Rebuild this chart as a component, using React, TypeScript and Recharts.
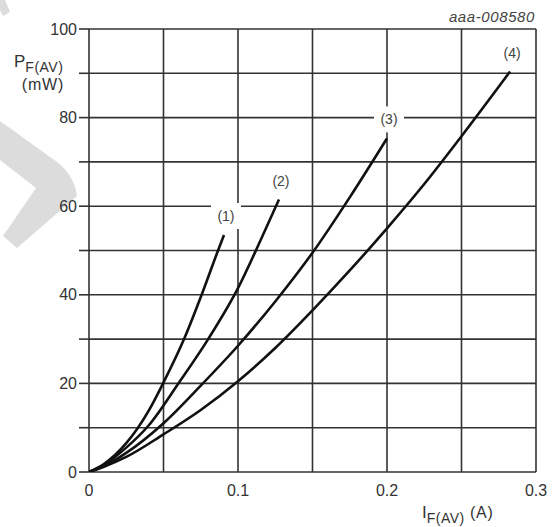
import React from 'react';
import { LineChart, Line, XAxis, YAxis, CartesianGrid, LabelList } from 'recharts';

const xTicks = [0, 0.05, 0.1, 0.15, 0.2, 0.25, 0.3];
const xTickLabels = ['0', '', '0.1', '', '0.2', '', '0.3'];
const yTicks = [0, 10, 20, 30, 40, 50, 60, 70, 80, 90, 100];
const yTickLabels = ['0', '', '20', '', '40', '', '60', '', '80', '', '100'];

const curveNames = ['(1)', '(2)', '(3)', '(4)'];

const curve1I = [0, 0.01, 0.025, 0.04, 0.0497, 0.0638, 0.0756, 0.0866, 0.0906];
const curve1P = [0, 1.8, 6.5, 13.8, 20, 30, 40, 50, 53.5];

const curve2I = [0, 0.01, 0.025, 0.04, 0.06, 0.08, 0.1, 0.115, 0.1275];
const curve2P = [0, 1.6, 5.5, 10.5, 20, 30, 41.5, 52.2, 61.5];

const curve3I = [0, 0.01, 0.025, 0.05, 0.075, 0.1, 0.125, 0.15, 0.175, 0.2];
const curve3P = [0, 1.3, 4.3, 11, 19.5, 28.5, 38.5, 49.5, 62, 75.3];

const curve4I = [0, 0.01, 0.025, 0.05, 0.075, 0.1, 0.125, 0.15, 0.175, 0.2, 0.225, 0.25, 0.2826];
const curve4P = [0, 1.2, 3.4, 8.5, 14, 20.5, 28, 36.5, 45.5, 55, 65, 75.8, 90.4];

const curvesI = [curve1I, curve2I, curve3I, curve4I];
const curvesP = [curve1P, curve2P, curve3P, curve4P];

const FONT = '"Liberation Sans", Arial, sans-serif';

const findLabel = (ticks: number[], labels: string[], v: number) => {
  const i = ticks.findIndex((t) => Math.abs(t - v) < 1e-9);
  return i >= 0 ? labels[i] : '';
};

const makeEndLabel = (name: string, lastIndex: number) => (props: any) => {
  const { index } = props;
  if (index !== lastIndex) return null;
  const x = props.x ?? props.viewBox?.x;
  const y = props.y ?? props.viewBox?.y;
  const cx = x + 2;
  const cy = y - 19;
  return (
    <g>
      <rect x={cx - 15} y={cy - 13} width={30} height={26} fill="#ffffff" />
      <text x={cx} y={cy} textAnchor="middle" dominantBaseline="central" fontSize={14} fontFamily={FONT} fill="#444">
        {name}
      </text>
    </g>
  );
};

export default function App() {
  const series = curvesI.map((I, k) => I.map((v, i) => ({ i: v, p: curvesP[k][i] })));
  return (
    <div style={{ position: 'absolute', left: 0, top: 0, width: 553, height: 527, background: '#ffffff', overflow: 'hidden' }}>
      <svg width={553} height={527} style={{ position: 'absolute', left: 0, top: 0 }}>
        <path d="M0,121 L50,157 Q74,172 77,196 L17,248 L3,236 L36,188 L0,160 Z" fill="#dcdcdc" />
        <path d="M0,0 L5,0 L10,12 L3,16 L0,10 Z" fill="#dcdcdc" />
      </svg>
      <div style={{ position: 'absolute', left: 0, top: 0 }}>
        <LineChart width={553} height={527} margin={{ top: 29, right: 17, left: 0, bottom: 0 }}>
          <CartesianGrid stroke="#333" strokeWidth={1.6} />
          <XAxis
            type="number"
            dataKey="i"
            domain={[0, 0.3]}
            ticks={xTicks}
            interval={0}
            height={55}
            tickSize={0}
            tickMargin={13}
            axisLine={false}
            tickLine={false}
            tickFormatter={(v: number) => findLabel(xTicks, xTickLabels, v)}
            tick={{ fill: '#333', fontSize: 16, fontFamily: FONT }}
            allowDataOverflow
          />
          <YAxis
            type="number"
            dataKey="p"
            domain={[0, 100]}
            ticks={yTicks}
            interval={0}
            width={89}
            tickSize={10}
            tickMargin={2}
            axisLine={false}
            tickLine={{ stroke: '#333', strokeWidth: 1.6 }}
            tickFormatter={(v: number) => findLabel(yTicks, yTickLabels, v)}
            tick={{ fill: '#333', fontSize: 16, fontFamily: FONT }}
            allowDataOverflow
          />
          {series.map((d, k) => (
            <Line
              key={k}
              data={d}
              dataKey="p"
              type="monotone"
              stroke="#111"
              strokeWidth={2.6}
              dot={false}
              activeDot={false}
              isAnimationActive={false}
            >
              <LabelList dataKey="p" content={makeEndLabel(curveNames[k], d.length - 1)} />
            </Line>
          ))}
        </LineChart>
      </div>
      <svg width={553} height={527} style={{ position: 'absolute', left: 0, top: 0, pointerEvents: 'none' }}>
        <text x={535} y={22} textAnchor="end" fontSize={15} letterSpacing={0.6} fontStyle="italic" fontFamily={FONT} fill="#444">
          aaa-008580
        </text>
        <text x={14} y={67} fontSize={17} fontFamily={FONT} fill="#333">
          P<tspan fontSize={14} dy={5} letterSpacing={0.5}>F(AV)</tspan>
        </text>
        <text x={43} y={90} textAnchor="middle" fontSize={16} letterSpacing={0.8} fontFamily={FONT} fill="#333">
          (mW)
        </text>
        <text x={422} y={518} fontSize={17} fontFamily={FONT} fill="#333">
          I<tspan fontSize={14} dy={5} letterSpacing={0.5}>F(AV)</tspan>
          <tspan fontSize={16} dy={-5} letterSpacing={0.8}> (A)</tspan>
        </text>
      </svg>
    </div>
  );
}
